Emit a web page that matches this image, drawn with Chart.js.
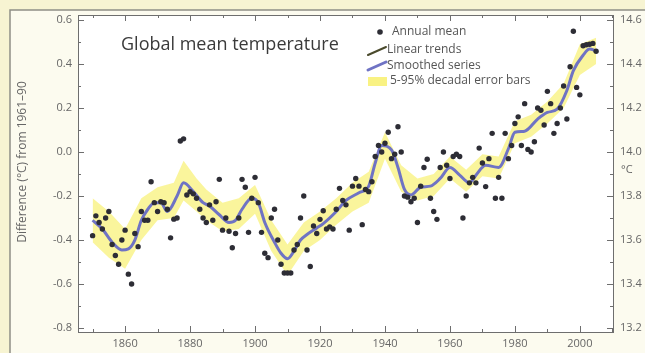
<!DOCTYPE html>
<html>
<head>
<meta charset="utf-8">
<script src="https://cdn.jsdelivr.net/npm/chart.js@4.4.0/dist/chart.umd.min.js"></script>
<style>
  html, body { margin: 0; padding: 0; background: #f7f4d2; }
</style>
</head>
<body>
<canvas id="tempchart" width="645" height="353"></canvas>
<script>
// annual global mean, difference from 1961-90 (degC), one value per year from 1850
const startYear = 1850;
const annualMean = [
  -0.38, -0.29, -0.32, -0.35, -0.30, -0.27, -0.42, -0.47, -0.51, -0.40,
  -0.355, -0.555, -0.60, -0.37, -0.43, -0.27, -0.31, -0.31, -0.135, -0.23,
  -0.27, -0.226, -0.23, -0.26, -0.39, -0.305, -0.30, 0.05, 0.06, -0.195,
  -0.18, -0.19, -0.21, -0.26, -0.30, -0.32, -0.24, -0.31, -0.226, -0.124,
  -0.355, -0.30, -0.36, -0.435, -0.37, -0.30, -0.124, -0.16, -0.365, -0.21,
  -0.115, -0.23, -0.365, -0.46, -0.48, -0.30, -0.26, -0.40, -0.51, -0.55,
  -0.55, -0.55, -0.445, -0.42, -0.30, -0.20, -0.445, -0.52, -0.336, -0.37,
  -0.306, -0.267, -0.35, -0.34, -0.35, -0.26, -0.165, -0.22, -0.24, -0.355,
  -0.155, -0.12, -0.155, -0.33, -0.17, -0.18, -0.135, -0.02, 0.03, 0.0,
  0.04, 0.09, -0.03, -0.01, 0.115, 0.0, -0.20, -0.205, -0.226, -0.21,
  -0.32, -0.155, -0.07, -0.033, -0.21, -0.27, -0.306, -0.07, 0.0, -0.06,
  -0.12, -0.02, -0.01, -0.02, -0.30, -0.20, -0.14, -0.115, -0.14, 0.018,
  -0.05, -0.157, -0.03, 0.085, -0.21, -0.115, -0.21, 0.085, -0.03, 0.03,
  0.13, 0.16, 0.03, 0.22, 0.012, 0.0, 0.047, 0.20, 0.19, 0.123,
  0.276, 0.22, 0.085, 0.13, 0.20, 0.30, 0.15, 0.388, 0.549, 0.294,
  0.26, 0.483, 0.488, 0.49, 0.494, 0.458
];

// smoothed series
const smoothYears = [1850, 1853, 1856, 1859, 1861, 1863, 1865, 1867, 1869, 1871,
  1873, 1876, 1878, 1881, 1884, 1886, 1889, 1892, 1894, 1896,
  1899, 1901, 1903, 1906, 1908, 1910, 1912, 1914, 1916, 1919,
  1921, 1925, 1928, 1932, 1935, 1937, 1939, 1942, 1944, 1946,
  1948, 1951, 1954, 1957, 1960, 1963, 1966, 1968, 1971,
  1975, 1978, 1980, 1983, 1987, 1990, 1993, 1996, 1998, 2001,
  2003, 2005];
const smoothValues = [-0.31, -0.35, -0.41, -0.445, -0.44, -0.40, -0.31, -0.26, -0.23, -0.23,
  -0.27, -0.20, -0.14, -0.18, -0.23, -0.245, -0.285, -0.32, -0.31, -0.26,
  -0.21, -0.23, -0.32, -0.41, -0.46, -0.485, -0.45, -0.40, -0.375, -0.345,
  -0.325, -0.27, -0.22, -0.185, -0.155, -0.05, 0.03, 0.01, -0.07, -0.17,
  -0.195, -0.16, -0.155, -0.12, -0.07, -0.105, -0.14, -0.105, -0.06,
  -0.07, 0.015, 0.09, 0.095, 0.15, 0.18, 0.195, 0.28, 0.37, 0.44,
  0.468, 0.46];

// 5-95% decadal error band
const bandYears = [1850, 1855, 1860, 1865, 1870, 1875, 1878, 1882, 1885, 1890,
  1895, 1900, 1905, 1910, 1915, 1920, 1925, 1930, 1935, 1940,
  1945, 1950, 1955, 1960, 1965, 1970, 1975, 1980, 1985, 1990,
  1995, 2000, 2005];
const bandUpper = [-0.21, -0.27, -0.35, -0.21, -0.16, -0.14, -0.04, -0.12, -0.17, -0.23,
  -0.21, -0.15, -0.31, -0.42, -0.32, -0.27, -0.21, -0.14, -0.09, 0.09,
  -0.06, -0.12, -0.10, -0.02, -0.08, -0.01, -0.02, 0.14, 0.17, 0.23,
  0.31, 0.49, 0.52];
const bandLower = [-0.41, -0.48, -0.53, -0.40, -0.31, -0.30, -0.22, -0.27, -0.31, -0.36,
  -0.35, -0.28, -0.45, -0.56, -0.45, -0.40, -0.33, -0.27, -0.23, -0.03,
  -0.18, -0.22, -0.20, -0.12, -0.18, -0.11, -0.12, 0.04, 0.07, 0.13,
  0.20, 0.35, 0.40];

const yearTicks = [1860, 1880, 1900, 1920, 1940, 1960, 1980, 2000];
const leftTicks = [-0.8, -0.6, -0.4, -0.2, 0.0, 0.2, 0.4, 0.6];
const rightTicks = [13.2, 13.4, 13.6, 13.8, 14.0, 14.2, 14.4, 14.6];

const FONT = '"Open Sans", "DejaVu Sans", sans-serif';

const frame = {
  id: 'frame',
  beforeDraw(chart) {
    const { ctx, chartArea: a, width, height } = chart;
    ctx.save();
    ctx.fillStyle = '#f7f4d2';
    ctx.fillRect(0, 0, width, height);
    ctx.fillStyle = '#fcfbef';
    ctx.fillRect(10, 10, width, height);
    ctx.strokeStyle = '#8e8e86';
    ctx.lineWidth = 1.5;
    ctx.strokeRect(10, 10, width + 20, height + 20);
    ctx.fillStyle = '#ffffff';
    ctx.fillRect(a.left, a.top, a.right - a.left, a.bottom - a.top);
    ctx.restore();
  },
  afterDraw(chart) {
    const { ctx, chartArea: a, scales } = chart;
    ctx.save();
    ctx.strokeStyle = '#6e6e6e';
    ctx.lineWidth = 1;
    ctx.strokeRect(a.left + 0.5, a.top + 0.5, a.right - a.left, a.bottom - a.top);

    // inward tick marks on all four sides
    ctx.beginPath();
    for (let yr = 1850; yr <= 2010; yr += 10) {
      const x = Math.round(scales.x.getPixelForValue(yr)) + 0.5;
      const len = yr % 20 === 0 ? 6 : 3;
      ctx.moveTo(x, a.bottom); ctx.lineTo(x, a.bottom - len);
      ctx.moveTo(x, a.top); ctx.lineTo(x, a.top + len);
    }
    for (let k = -8; k <= 6; k++) {
      const y = Math.round(scales.y.getPixelForValue(k / 10)) + 0.5;
      const len = k % 2 === 0 ? 6 : 3;
      ctx.moveTo(a.left, y); ctx.lineTo(a.left + len, y);
      ctx.moveTo(a.right, y); ctx.lineTo(a.right - len, y);
    }
    ctx.stroke();

    // unit under the 14.0 label
    ctx.fillStyle = '#666';
    ctx.font = '11px ' + FONT;
    ctx.textBaseline = 'middle';
    ctx.textAlign = 'left';
    ctx.fillText('°C', 621, 170);

    // left axis title, a bit above centre as in the original
    ctx.save();
    ctx.translate(23, 162);
    ctx.rotate(-Math.PI / 2);
    ctx.textAlign = 'center';
    ctx.font = '12px ' + FONT;
    ctx.fillText('Difference (°C) from 1961–90', 0, 0);
    ctx.restore();

    // title
    ctx.fillStyle = '#3a3a3a';
    ctx.font = '18px ' + FONT;
    ctx.fillText('Global mean temperature', 121, 45);

    // legend
    ctx.font = '12px ' + FONT;
    ctx.fillStyle = '#2d2d35';
    ctx.beginPath();
    ctx.arc(380, 32, 2.8, 0, Math.PI * 2);
    ctx.fill();
    ctx.lineCap = 'round';
    ctx.strokeStyle = '#4a4a2c';
    ctx.lineWidth = 2;
    ctx.beginPath(); ctx.moveTo(368, 55); ctx.lineTo(386, 47); ctx.stroke();
    ctx.strokeStyle = '#6f73c4';
    ctx.lineWidth = 3;
    ctx.beginPath(); ctx.moveTo(368, 70); ctx.lineTo(386, 62); ctx.stroke();
    ctx.fillStyle = 'rgba(247, 238, 90, 0.75)';
    ctx.fillRect(368, 77, 19, 9);

    ctx.fillStyle = '#555';
    ctx.fillText('Annual mean', 392, 32);
    ctx.fillText('Linear trends', 387, 50);
    ctx.fillText('Smoothed series', 387, 66);
    ctx.fillText('5-95% decadal error bars', 390, 81);
    ctx.restore();
  }
};

const pts = (xs, ys) => xs.map((x, i) => ({ x: x, y: ys[i] }));

new Chart('tempchart', {
  type: 'line',
  data: {
    datasets: [{
      label: 'Annual mean',
      data: annualMean.map((v, i) => ({ x: startYear + i, y: v })),
      showLine: false,
      pointRadius: 2.7,
      pointBorderWidth: 0,
      pointBackgroundColor: '#2d2d35',
      order: 0
    }, {
      label: 'Smoothed series',
      data: pts(smoothYears, smoothValues),
      borderColor: '#6f73c4',
      borderWidth: 3,
      pointRadius: 0,
      cubicInterpolationMode: 'monotone',
      fill: false,
      order: 1
    }, {
      label: '5-95% decadal error bars',
      data: pts(bandYears, bandUpper),
      borderWidth: 0,
      pointRadius: 0,
      backgroundColor: 'rgba(247, 238, 90, 0.6)',
      fill: '+1',
      order: 2
    }, {
      label: 'lower',
      data: pts(bandYears, bandLower),
      borderWidth: 0,
      pointRadius: 0,
      fill: false,
      order: 3
    }]
  },
  options: {
    responsive: false,
    animation: false,
    layout: { padding: { left: 10, top: 15, right: 0, bottom: 0 } },
    plugins: { legend: { display: false }, tooltip: { enabled: false } },
    scales: {
      x: {
        type: 'linear',
        min: 1845.5,
        max: 2010.2,
        grid: { display: false, drawTicks: false },
        border: { display: false },
        afterBuildTicks: s => { s.ticks = yearTicks.map(v => ({ value: v })); },
        ticks: { color: '#666', font: { family: FONT, size: 11 }, padding: 5, maxRotation: 0, autoSkip: false, callback: v => String(v) },
        afterFit: s => { s.height = 21; }
      },
      y: {
        position: 'left',
        min: -0.818,
        max: 0.623,
        grid: { display: false, drawTicks: false },
        border: { display: false },
        afterBuildTicks: s => { s.ticks = leftTicks.map(v => ({ value: v })); },
        ticks: { color: '#666', font: { family: FONT, size: 11 }, padding: 6, callback: v => v.toFixed(1) },
        afterFit: s => { s.width = 68; }
      },
      y2: {
        position: 'right',
        min: 13.182,
        max: 14.623,
        grid: { display: false, drawTicks: false },
        border: { display: false },
        afterBuildTicks: s => { s.ticks = rightTicks.map(v => ({ value: v })); },
        ticks: { color: '#666', font: { family: FONT, size: 11 }, padding: 7, callback: v => v.toFixed(1) },
        afterFit: s => { s.width = 32; }
      }
    }
  },
  plugins: [frame]
});
</script>
</body>
</html>
